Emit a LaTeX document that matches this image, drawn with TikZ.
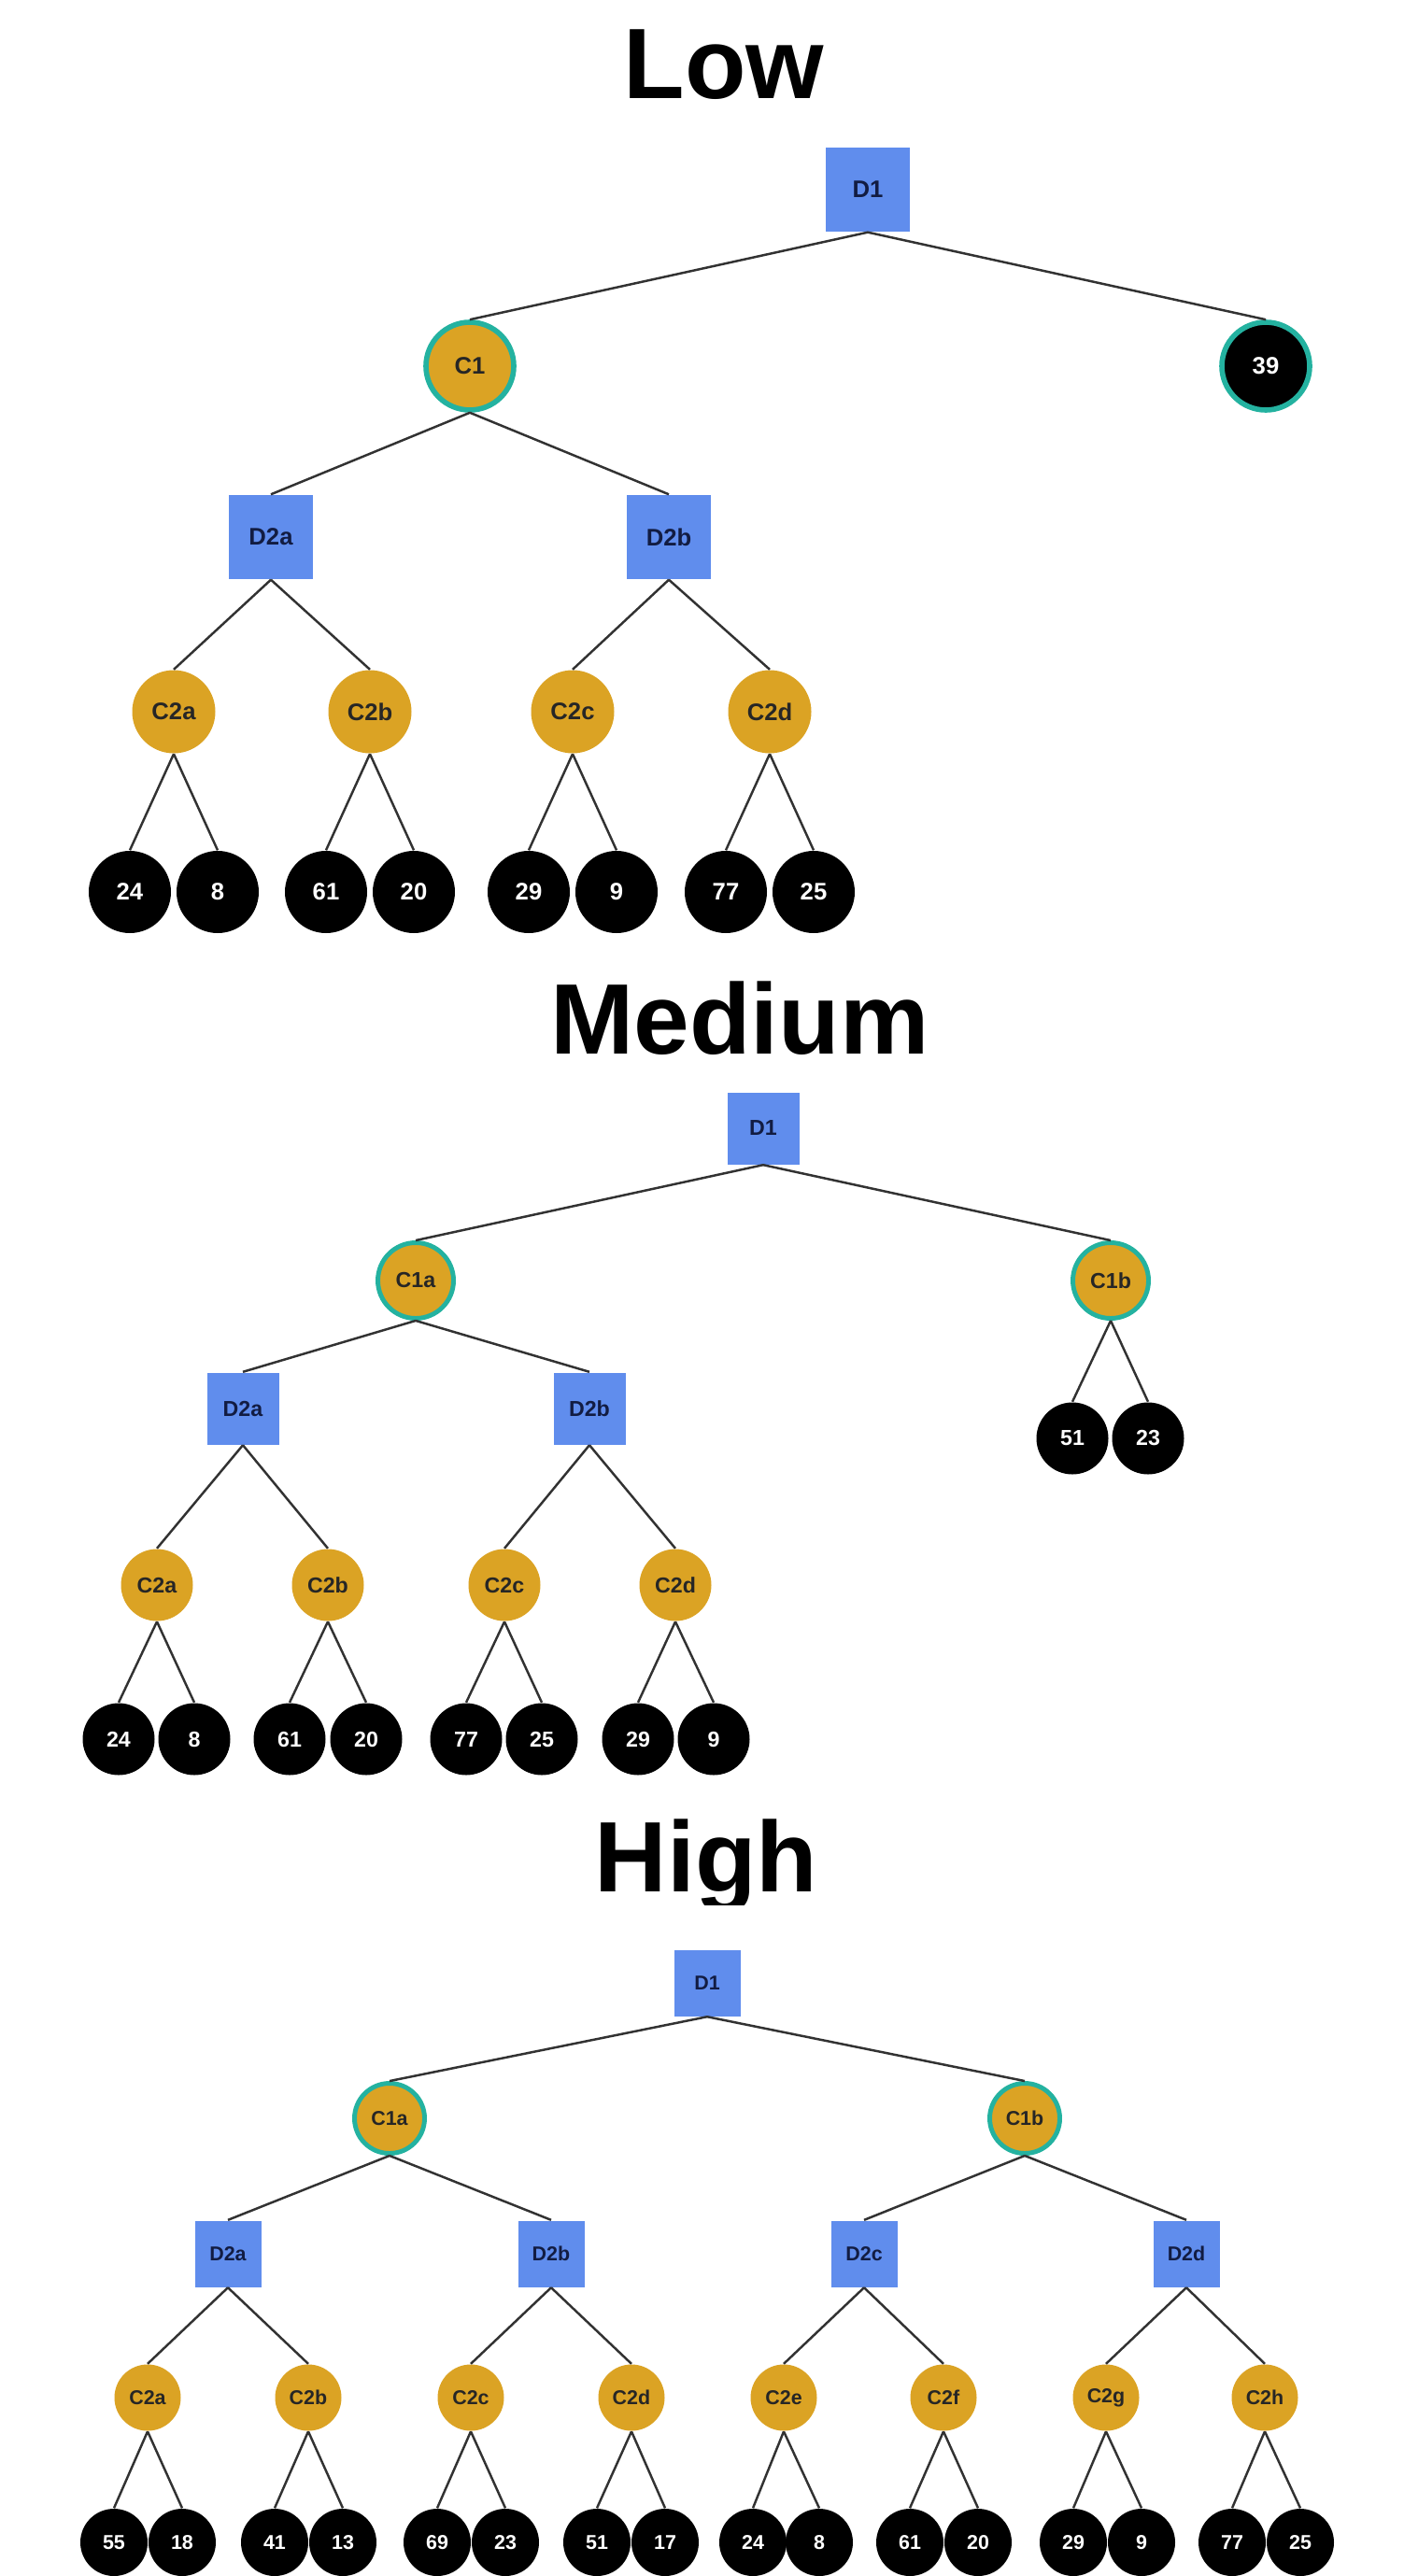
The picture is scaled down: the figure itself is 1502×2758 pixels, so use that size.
\documentclass[tikz,border=0pt]{standalone}
\usepackage{fontspec}
\setmainfont{Liberation Sans}
\definecolor{dblue}{RGB}{96,141,237}
\definecolor{cgold}{RGB}{219,163,36}
\definecolor{cteal}{RGB}{36,178,160}
\definecolor{navy}{RGB}{18,28,66}
\definecolor{edgecol}{RGB}{50,50,50}
\begin{document}
\begin{tikzpicture}[x=0.01cm,y=-0.01cm,
  every node/.style={inner sep=0pt,font=\bfseries},
  title/.style={anchor=base,font=\fontsize{30.5}{32}\selectfont\bfseries},
  dsq/.style={rectangle,fill=dblue,text=navy},
  cnd/.style={circle,fill=cgold,text=black!85},
  cbord/.style={draw=cteal,line width=#1},
  leaf/.style={circle,fill=black,text=white},
  sz/.style={minimum size=#1*0.01cm},
  szL/.style={font=\fontsize{7.3}{8}\selectfont\bfseries},
  szM/.style={font=\fontsize{6.6}{7}\selectfont\bfseries},
  szH/.style={font=\fontsize{6.1}{7}\selectfont\bfseries},
  link/.style={draw=edgecol,line width=0.7pt}]
\useasboundingbox (0,0) rectangle (1502,2758);
\fill[white] (0,0) rectangle (1502,2758);

% ---------------- Low ----------------
\node[title] (tLow) at (775,106) {Low};
\begin{scope}[every node/.append style={szL}]
\node[dsq,sz=90] (L-D1) at (929,203) {D1};
\node[cnd,cbord=1.6pt,sz=94] (L-C1) at (503,392) {C1};
\node[leaf,cbord=1.6pt,sz=94] (L-39) at (1355,392) {39};
\node[dsq,sz=90] (L-D2a) at (290,575) {D2a};
\node[dsq,sz=90] (L-D2b) at (716,575) {D2b};
\node[cnd,sz=89] (L-C2a) at (186,762) {C2a};
\node[cnd,sz=89] (L-C2b) at (396,762) {C2b};
\node[cnd,sz=89] (L-C2c) at (613,762) {C2c};
\node[cnd,sz=89] (L-C2d) at (824,762) {C2d};
\node[leaf,sz=88] (L-l1) at (139,955) {24};
\node[leaf,sz=88] (L-l2) at (233,955) {8};
\node[leaf,sz=88] (L-l3) at (349,955) {61};
\node[leaf,sz=88] (L-l4) at (443,955) {20};
\node[leaf,sz=88] (L-l5) at (566,955) {29};
\node[leaf,sz=88] (L-l6) at (660,955) {9};
\node[leaf,sz=88] (L-l7) at (777,955) {77};
\node[leaf,sz=88] (L-l8) at (871,955) {25};
\end{scope}
\path[link] (L-D1.south) -- (L-C1.north) (L-D1.south) -- (L-39.north)
  (L-C1.south) -- (L-D2a.north) (L-C1.south) -- (L-D2b.north)
  (L-D2a.south) -- (L-C2a.north) (L-D2a.south) -- (L-C2b.north)
  (L-D2b.south) -- (L-C2c.north) (L-D2b.south) -- (L-C2d.north)
  (L-C2a.south) -- (L-l1.north) (L-C2a.south) -- (L-l2.north)
  (L-C2b.south) -- (L-l3.north) (L-C2b.south) -- (L-l4.north)
  (L-C2c.south) -- (L-l5.north) (L-C2c.south) -- (L-l6.north)
  (L-C2d.south) -- (L-l7.north) (L-C2d.south) -- (L-l8.north);

% ---------------- Medium ----------------
\node[title] (tMed) at (792,1128) {Medium};
\begin{scope}[every node/.append style={szM}]
\node[dsq,sz=77] (M-D1) at (817,1208) {D1};
\node[cnd,cbord=1.4pt,sz=81] (M-C1a) at (445,1371) {C1a};
\node[cnd,cbord=1.4pt,sz=81] (M-C1b) at (1189,1371) {C1b};
\node[dsq,sz=77] (M-D2a) at (260,1508) {D2a};
\node[dsq,sz=77] (M-D2b) at (631,1508) {D2b};
\node[cnd,sz=77] (M-C2a) at (168,1697) {C2a};
\node[cnd,sz=77] (M-C2b) at (351,1697) {C2b};
\node[cnd,sz=77] (M-C2c) at (540,1697) {C2c};
\node[cnd,sz=77] (M-C2d) at (723,1697) {C2d};
\node[leaf,sz=77] (M-l1) at (127,1862) {24};
\node[leaf,sz=77] (M-l2) at (208,1862) {8};
\node[leaf,sz=77] (M-l3) at (310,1862) {61};
\node[leaf,sz=77] (M-l4) at (392,1862) {20};
\node[leaf,sz=77] (M-l5) at (499,1862) {77};
\node[leaf,sz=77] (M-l6) at (580,1862) {25};
\node[leaf,sz=77] (M-l7) at (683,1862) {29};
\node[leaf,sz=77] (M-l8) at (764,1862) {9};
\node[leaf,sz=77] (M-l9) at (1148,1540) {51};
\node[leaf,sz=77] (M-l10) at (1229,1540) {23};
\end{scope}
\path[link] (M-D1.south) -- (M-C1a.north) (M-D1.south) -- (M-C1b.north)
  (M-C1a.south) -- (M-D2a.north) (M-C1a.south) -- (M-D2b.north)
  (M-C1b.south) -- (M-l9.north) (M-C1b.south) -- (M-l10.north)
  (M-D2a.south) -- (M-C2a.north) (M-D2a.south) -- (M-C2b.north)
  (M-D2b.south) -- (M-C2c.north) (M-D2b.south) -- (M-C2d.north)
  (M-C2a.south) -- (M-l1.north) (M-C2a.south) -- (M-l2.north)
  (M-C2b.south) -- (M-l3.north) (M-C2b.south) -- (M-l4.north)
  (M-C2c.south) -- (M-l5.north) (M-C2c.south) -- (M-l6.north)
  (M-C2d.south) -- (M-l7.north) (M-C2d.south) -- (M-l8.north);

% ---------------- High ----------------
\begin{scope}
\clip (0,1900) rectangle (1502,2039);
\node[title] (tHigh) at (756,2025) {High};
\end{scope}
\begin{scope}[every node/.append style={szH}]
\node[dsq,sz=71] (H-D1) at (757,2123) {D1};
\node[cnd,cbord=1.4pt,sz=75] (H-C1a) at (417,2268) {C1a};
\node[cnd,cbord=1.4pt,sz=75] (H-C1b) at (1097,2268) {C1b};
\node[dsq,sz=71] (H-D2a) at (244,2413) {D2a};
\node[dsq,sz=71] (H-D2b) at (590,2413) {D2b};
\node[dsq,sz=71] (H-D2c) at (925,2413) {D2c};
\node[dsq,sz=71] (H-D2d) at (1270,2413) {D2d};
\node[cnd,sz=71] (H-C2a) at (158,2567) {C2a};
\node[cnd,sz=71] (H-C2b) at (330,2567) {C2b};
\node[cnd,sz=71] (H-C2c) at (504,2567) {C2c};
\node[cnd,sz=71] (H-C2d) at (676,2567) {C2d};
\node[cnd,sz=71] (H-C2e) at (839,2567) {C2e};
\node[cnd,sz=71] (H-C2f) at (1010,2567) {C2f};
\node[cnd,sz=71] (H-C2g) at (1184,2567) {C2g};
\node[cnd,sz=71] (H-C2h) at (1354,2567) {C2h};
\node[leaf,sz=72] (H-l1) at (122,2722) {55};
\node[leaf,sz=72] (H-l2) at (195,2722) {18};
\node[leaf,sz=72] (H-l3) at (294,2722) {41};
\node[leaf,sz=72] (H-l4) at (367,2722) {13};
\node[leaf,sz=72] (H-l5) at (468,2722) {69};
\node[leaf,sz=72] (H-l6) at (541,2722) {23};
\node[leaf,sz=72] (H-l7) at (639,2722) {51};
\node[leaf,sz=72] (H-l8) at (712,2722) {17};
\node[leaf,sz=72] (H-l9) at (806,2722) {24};
\node[leaf,sz=72] (H-l10) at (877,2722) {8};
\node[leaf,sz=72] (H-l11) at (974,2722) {61};
\node[leaf,sz=72] (H-l12) at (1047,2722) {20};
\node[leaf,sz=72] (H-l13) at (1149,2722) {29};
\node[leaf,sz=72] (H-l14) at (1222,2722) {9};
\node[leaf,sz=72] (H-l15) at (1319,2722) {77};
\node[leaf,sz=72] (H-l16) at (1392,2722) {25};
\end{scope}
\path[link] (H-D1.south) -- (H-C1a.north) (H-D1.south) -- (H-C1b.north)
  (H-C1a.south) -- (H-D2a.north) (H-C1a.south) -- (H-D2b.north)
  (H-C1b.south) -- (H-D2c.north) (H-C1b.south) -- (H-D2d.north)
  (H-D2a.south) -- (H-C2a.north) (H-D2a.south) -- (H-C2b.north)
  (H-D2b.south) -- (H-C2c.north) (H-D2b.south) -- (H-C2d.north)
  (H-D2c.south) -- (H-C2e.north) (H-D2c.south) -- (H-C2f.north)
  (H-D2d.south) -- (H-C2g.north) (H-D2d.south) -- (H-C2h.north)
  (H-C2a.south) -- (H-l1.north) (H-C2a.south) -- (H-l2.north)
  (H-C2b.south) -- (H-l3.north) (H-C2b.south) -- (H-l4.north)
  (H-C2c.south) -- (H-l5.north) (H-C2c.south) -- (H-l6.north)
  (H-C2d.south) -- (H-l7.north) (H-C2d.south) -- (H-l8.north)
  (H-C2e.south) -- (H-l9.north) (H-C2e.south) -- (H-l10.north)
  (H-C2f.south) -- (H-l11.north) (H-C2f.south) -- (H-l12.north)
  (H-C2g.south) -- (H-l13.north) (H-C2g.south) -- (H-l14.north)
  (H-C2h.south) -- (H-l15.north) (H-C2h.south) -- (H-l16.north);
\end{tikzpicture}
\end{document}
